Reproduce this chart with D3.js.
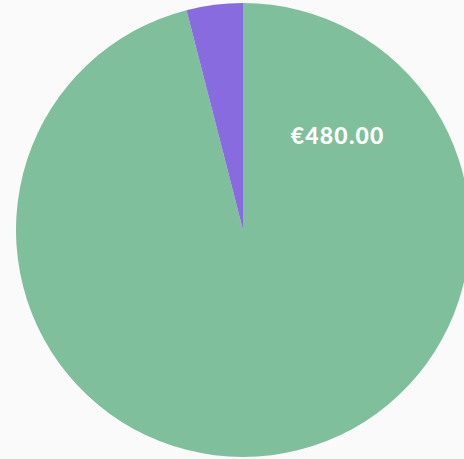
<!DOCTYPE html>
<html><head><meta charset="utf-8">
<script src="https://cdn.jsdelivr.net/npm/d3@7"></script>
<style>html,body{margin:0;padding:0;background:#fafafa;overflow:hidden}</style>
</head><body>
<svg id="c" width="464" height="459"></svg>
<script>
const categories = ["Paid", "Other"];
const values = [480, 20];
const colors = ["#7fbf9b", "#896be0"];
const labels = ["€480.00", ""];

const svg = d3.select("#c");
const cx = 243, cy = 230, r = 227;
const g = svg.append("g").attr("transform", `translate(${cx},${cy})`);
const pie = d3.pie().sort(null).value(d => d)(values);
const arc = d3.arc().innerRadius(0).outerRadius(r);
g.selectAll("path").data(pie).enter().append("path")
  .attr("d", arc).attr("fill", (d, i) => colors[i]);
const la = Math.PI / 4, lr = r * 0.59;
g.append("text").attr("x", Math.sin(la) * lr).attr("y", -Math.cos(la) * lr)
  .attr("text-anchor", "middle").attr("dominant-baseline", "central")
  .attr("fill", "#fff").attr("font-family", "Lato, sans-serif").attr("font-weight", 900)
  .attr("letter-spacing", "1.2px")
  .attr("font-size", 23).text(labels[0]);
</script>
</body></html>
